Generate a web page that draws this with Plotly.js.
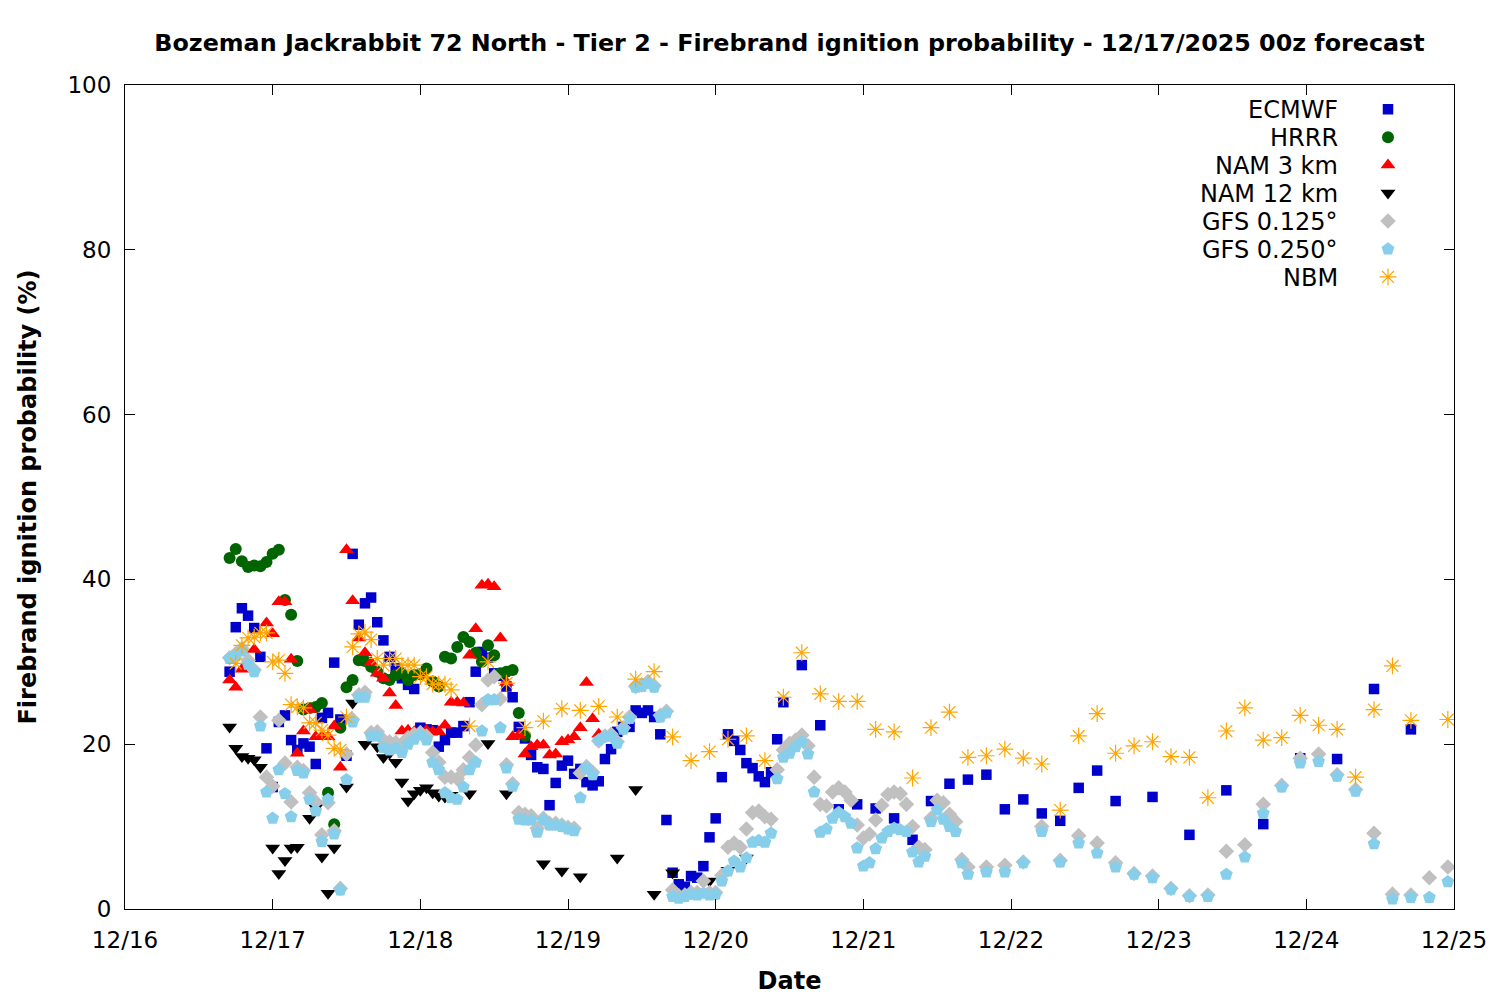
<!DOCTYPE html>
<html>
<head>
<meta charset="utf-8">
<script src="https://cdn.plot.ly/plotly-3.0.1.min.js"></script>
<style>html,body{margin:0;padding:0;background:#fff;}#chart{width:1500px;height:1000px;}</style>
</head>
<body>
<div id="chart"></div>
<script>
// Forecast valid times are hours after 12/16 00:00 (local time)
const dayLabels = ['12/16','12/17','12/18','12/19','12/20','12/21','12/22','12/23','12/24','12/25'];
const seriesNames = ['ECMWF','HRRR','NAM 3 km','NAM 12 km','GFS 0.125°','GFS 0.250°','NBM'];

// ECMWF: hourly h17..h107, then 3-hourly, then 6-hourly
const ecmwfHourly = [28.8,34.2,36.5,35.6,34.1,30.6,19.5,14.8,22.7,23.5,
  20.5,19.3,20.1,19.7,17.6,23.2,23.8,29.9,23.0,18.6,
  43.1,34.5,37.1,37.8,34.8,32.6,30.6,29.2,28.0,27.2,
  26.7,22.0,21.8,21.7,19.7,20.5,21.4,21.4,22.2,25.1,
  28.8,31.2,30.5,28.6,28.3,27.0,25.7,22.1,20.7,18.7,
  17.2,17.0,12.6,15.3,17.4,18.0,16.4,17.0,15.4,15.0,
  15.5,18.2,19.4,21.5,22.1,22.1,24.1,23.8,24.1,23.3,
  21.2,10.8,4.4,3.0,2.7,4.0,3.8,5.2,8.7,11.0,
  16.0,21.2,20.4,19.3,17.7,17.1,16.1,15.4,16.6,20.6,
  25.1];
const ecmwf3h = [29.6,22.3,12.1,12.7,12.2,11.0,8.4,13.1,15.2,15.7,16.3,12.1,13.3,11.6,10.7,14.7,16.8,13.1];
const ecmwf6h = [13.6,9.0,14.4,10.3,18.3,18.2,26.7,21.8];

// HRRR: hourly h17..h65
const hrrr = [42.6,43.7,42.2,41.5,41.7,41.6,42.1,43.1,43.6,37.5,
  35.7,30.1,24.2,24.4,24.5,25.0,14.1,10.3,22.0,26.9,
  27.8,30.2,30.1,29.4,28.8,28.0,27.8,28.4,28.6,27.8,
  28.4,28.5,29.2,27.6,27.0,30.6,30.4,31.8,33.0,32.4,
  31.1,30.0,32.0,30.8,28.6,28.8,29.0,23.8,21.0];

// NAM 3 km: hourly h17..h77
const nam3 = [27.8,26.9,29.1,29.9,31.5,null,34.7,33.4,37.3,37.3,
  30.3,18.9,21.6,24.2,20.9,20.9,20.9,22.2,17.2,43.6,
  37.4,32.9,31.1,29.9,28.6,28.0,26.2,24.7,21.6,21.7,
  21.5,21.4,21.7,21.5,21.5,22.3,25.1,25.1,25.0,30.8,
  34.0,39.3,39.4,39.1,32.9,27.5,20.9,21.1,18.8,19.7,
  19.9,19.9,18.7,18.8,20.3,20.5,20.9,22.0,27.5,23.1,
  21.2];

// NAM 12 km: hourly h17..h53, then 3-hourly h56..h101
const nam12Hourly = [22.1,19.5,18.5,18.3,18.1,17.2,null,7.4,4.3,5.9,
  7.4,7.5,null,11.0,12.3,6.3,1.9,7.4,null,14.8,
  25.0,null,20.0,null,19.7,18.4,18.9,17.8,15.4,13.1,
  14.0,14.4,14.7,14.1,13.7,13.6,13.8];
const nam12_3h = [14.0,20.1,14.0,null,5.5,4.6,3.9,null,6.2,14.5,1.8,4.4,null,3.4,4.7,6.2];

// GFS 0.125: hourly h17..h137, then 3-hourly h140..h215
const gfs125Hourly = [30.5,31.0,31.6,30.2,29.0,23.3,16.0,14.9,22.9,17.7,
  13.0,17.2,16.8,14.1,13.0,9.0,12.9,9.5,2.5,18.8,
  23.0,26.0,26.3,21.4,21.5,20.5,20.3,20.2,20.0,20.8,
  21.2,21.4,21.0,19.0,17.8,16.0,16.0,15.8,16.9,18.4,
  19.9,24.8,27.8,28.2,25.5,17.5,15.2,11.7,11.5,11.3,
  9.8,11.0,10.4,10.4,10.2,9.9,9.8,16.5,17.3,16.6,
  20.4,21.0,21.2,20.3,22.0,23.3,27.0,27.2,27.6,27.1,
  23.5,24.0,2.3,1.6,1.7,2.0,2.0,3.4,2.0,2.0,
  4.1,7.5,8.0,7.5,9.7,11.7,11.9,11.2,10.9,16.9,
  19.3,20.1,20.5,21.1,19.8,16.0,12.7,12.5,14.2,14.7,
  14.2,13.2,10.2,8.6,9.1,10.8,12.6,13.9,14.2,14.0,
  12.7,10.0,7.5,7.2,11.0,13.2,12.9,11.5,10.6,6.0,
  5.1];
const gfs125_3h = [5.1,5.3,5.7,10.0,5.9,8.9,8.0,5.6,4.3,4.0,2.5,1.6,1.7,7.0,7.8,12.7,15.0,18.3,18.8,16.3,14.5,9.2,1.8,1.7,3.8,5.1];

// GFS 0.250: hourly h17..h137, then 3-hourly h140..h215
const gfs250Hourly = [30.4,30.8,31.3,29.7,28.8,22.2,14.2,11.0,16.9,14.0,
  11.2,16.8,16.5,13.3,11.9,8.2,13.3,9.1,2.3,15.7,
  22.7,25.7,25.7,21.0,21.0,19.6,19.3,19.5,19.0,20.0,
  20.6,21.1,20.5,17.8,16.9,14.1,13.5,13.3,14.8,16.9,
  17.8,21.6,25.4,25.4,22.0,17.1,14.9,10.9,10.8,10.8,
  9.3,10.8,10.2,10.2,10.0,9.7,9.5,13.5,17.1,16.3,
  20.5,20.9,21.0,20.1,21.8,23.1,26.9,27.0,27.4,26.9,
  23.3,23.8,1.5,1.3,1.5,1.8,1.7,1.9,1.7,1.8,
  3.4,4.6,5.8,5.1,6.2,8.1,8.3,8.1,9.2,15.8,
  18.4,18.9,19.7,20.3,18.8,14.2,9.3,9.7,11.0,11.7,
  11.2,10.4,7.4,5.2,5.6,7.3,8.6,9.4,9.8,9.6,
  9.4,6.9,5.7,6.4,10.6,12.0,10.9,10.0,9.4,5.6,
  4.2];
const gfs250_3h = [4.5,4.5,5.6,9.4,5.7,8.0,6.8,5.1,4.2,3.8,2.4,1.5,1.5,4.2,6.3,11.6,14.8,17.7,17.9,16.1,14.3,7.9,1.2,1.4,1.4,3.3];

// NBM: hourly h18..h53, then 3-hourly h56..h215
const nbmHourly = [29.8,32.0,32.9,33.0,33.5,33.5,30.0,30.2,28.6,24.8,
  24.5,24.4,22.6,22.6,21.7,21.1,19.5,19.3,23.3,31.8,
  33.4,33.6,32.7,30.4,29.6,30.4,30.4,29.6,29.6,29.6,
  28.2,28.2,27.3,27.3,27.3,26.6];
const nbm3h = [22.2,30.0,27.4,22.0,22.8,24.3,24.1,24.6,23.3,27.9,
  28.8,20.9,18.0,19.1,20.6,21.0,18.0,25.7,31.1,26.1,
  25.2,25.2,21.8,21.5,15.9,22.0,23.9,18.4,18.6,19.4,
  18.3,17.6,12.0,21.0,23.7,18.9,19.8,20.3,18.5,18.4,
  13.5,21.6,24.4,20.5,20.8,23.5,22.3,21.8,16.0,24.2,
  29.5,22.9,null,23.0];

// ---- helpers: forecast hours -> timestamps ----
function hours(start, step, n){ const a=[]; for(let i=0;i<n;i++) a.push(start+i*step); return a; }
const base = Date.UTC(2025,11,16,0,0,0);
function toTime(h){ return new Date(base + h*3600e3).toISOString().slice(0,19).replace('T',' '); }
function series(parts){
  const x=[], y=[];
  parts.forEach(([s,st,v])=>{ hours(s,st,v.length).forEach((h,i)=>{ x.push(toTime(h)); y.push(v[i]); }); });
  return {x,y};
}

const FONT = 'DejaVu Sans, Verdana, sans-serif';
const defs = [
  {d:series([[17,1,ecmwfHourly],[110,3,ecmwf3h],[167,6,ecmwf6h]]), m:{symbol:'square', size:10.5, color:'#0000cc'}},
  {d:series([[17,1,hrrr]]), m:{symbol:'circle', size:12, color:'#006400'}},
  {d:series([[17,1,nam3]]), m:{symbol:'triangle-up', size:13, color:'#ff0000'}},
  {d:series([[17,1,nam12Hourly],[56,3,nam12_3h]]), m:{symbol:'triangle-down', size:13, color:'#000000'}},
  {d:series([[17,1,gfs125Hourly],[140,3,gfs125_3h]]), m:{symbol:'diamond', size:12, color:'#c0c0c0'}},
  {d:series([[17,1,gfs250Hourly],[140,3,gfs250_3h]]), m:{symbol:'pentagon', size:13.5, color:'#87ceeb'}},
  {d:series([[18,1,nbmHourly],[56,3,nbm3h]]), m:{symbol:'asterisk-open', size:14, color:'#ffa500', line:{width:1.2, color:'#ffa500'}}}
];
// Legend symbols come from Plotly's legend; the labels are drawn right-aligned to their left (gnuplot style)
const traces = defs.map((s,i)=>({
  type:'scatter', mode:'markers', name:'\u00a0', legendgroup:seriesNames[i], meta:seriesNames[i],
  x:s.d.x, y:s.d.y, marker:Object.assign({line:{width:0}}, s.m)
}));

const legendRowsPx = [110,138,166,194,222,250,278];
const annotations = seriesNames.map((n,i)=>({
  text:n, xref:'paper', yref:'paper', x:(1340-125)/1329, y:1-(legendRowsPx[i]-85)/824,
  xanchor:'right', yanchor:'middle', showarrow:false, font:{family:FONT, size:24, color:'#000'}
}));

const tickvals = dayLabels.map((_,i)=>toTime(i*24));
const axisCommon = {
  showline:true, linecolor:'#000', linewidth:1, mirror:'allticks',
  ticks:'inside', ticklen:10, tickcolor:'#000', tickwidth:1,
  showgrid:false, zeroline:false, tickfont:{family:FONT, size:23, color:'#000'}
};
const layout = {
  width:1500, height:1000,
  margin:{l:125, r:46, t:85, b:91, autoexpand:false},
  paper_bgcolor:'#fff', plot_bgcolor:'#fff',
  font:{family:FONT, color:'#000'},
  title:{text:'<b>Bozeman Jackrabbit 72 North - Tier 2 - Firebrand ignition probability - 12/17/2025 00z forecast</b>',
    font:{family:FONT, size:23.8, color:'#000'}, xref:'paper', x:0.5, xanchor:'center', yref:'container', y:0.957, yanchor:'middle'},
  xaxis:Object.assign({}, axisCommon, {
    type:'date', range:[toTime(0), toTime(216)], tickmode:'array', tickvals:tickvals, ticktext:dayLabels,
    ticklabelstandoff:10,
    title:{text:'<b>Date</b>', font:{family:FONT, size:24, color:'#000'}, standoff:20}
  }),
  yaxis:Object.assign({}, axisCommon, {
    range:[0,100], tickmode:'array', tickvals:[0,20,40,60,80,100], ticktext:['0','20','40','60','80','100'],
    ticklabelstandoff:8,
    title:{text:'<b>Firebrand ignition probability (%)</b>', font:{family:FONT, size:24, color:'#000'}, standoff:24}
  }),
  showlegend:true,
  legend:{x:(1368-125)/1329, y:1-(90.2-85)/824, xanchor:'left', yanchor:'top', bgcolor:'rgba(0,0,0,0)',
    font:{family:FONT, size:19.2, color:'#000'}, tracegroupgap:0, itemwidth:30},
  annotations:annotations
};
Plotly.newPlot('chart', traces, layout, {staticPlot:true, displayModeBar:false});
</script>
</body>
</html>
